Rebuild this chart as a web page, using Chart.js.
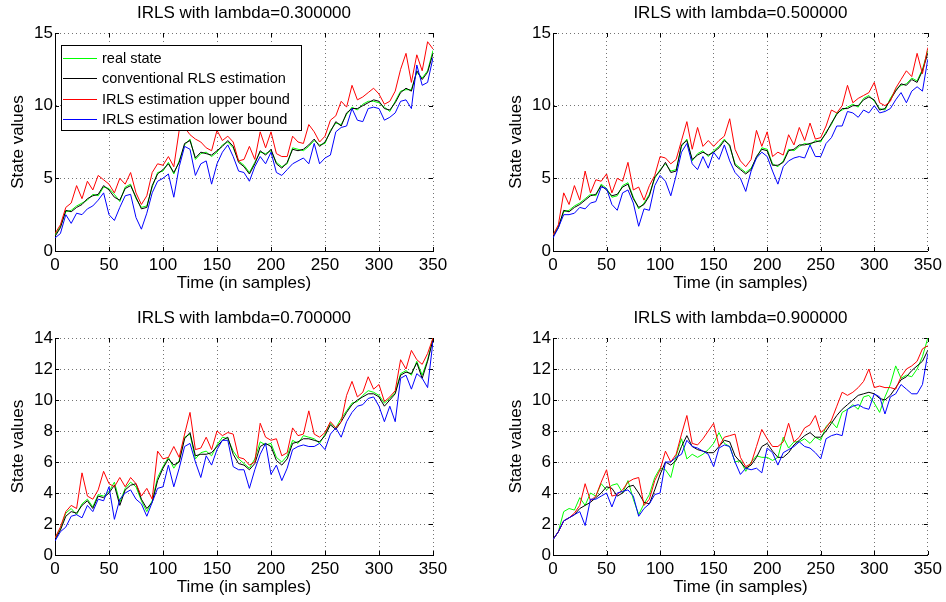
<!DOCTYPE html>
<html>
<head>
<meta charset="utf-8">
<script src="https://cdn.jsdelivr.net/npm/chart.js@4.4.1/dist/chart.umd.min.js"></script>
<style>
  html, body { margin: 0; padding: 0; background: #fff; }
  #wrap { position: relative; width: 946px; height: 602px; }
  canvas { position: absolute; }
</style>
</head>
<body>
<div id="wrap">
  <canvas id="c1" width="473" height="301" style="left:0;top:0"></canvas>
  <canvas id="c2" width="473" height="301" style="left:473px;top:0"></canvas>
  <canvas id="c3" width="473" height="301" style="left:0;top:301px"></canvas>
  <canvas id="c4" width="473" height="301" style="left:473px;top:301px"></canvas>
</div>
<script>
// sample index of every point (one point every 5 samples)
const samples = [0,5,10,15,20,25,30,35,40,45,50,55,60,65,70,75,80,85,90,95,
  100,105,110,115,120,125,130,135,140,145,150,155,160,165,170,175,180,185,190,195,
  200,205,210,215,220,225,230,235,240,245,250,255,260,265,270,275,280,285,290,295,
  300,305,310,315,320,325,330,335,340,345,350];

const seriesNames = ['real state', 'conventional RLS estimation', 'IRLS estimation upper bound', 'IRLS estimation lower bound'];
const seriesColors = ['#00ff00', '#000000', '#ff0000', '#0000ff'];
const titles = ['IRLS with lambda=0.300000', 'IRLS with lambda=0.500000', 'IRLS with lambda=0.700000', 'IRLS with lambda=0.900000'];
const xTicks = [0, 50, 100, 150, 200, 250, 300, 350];
const yTicksTop = [0, 5, 10, 15];
const yTicksBottom = [0, 2, 4, 6, 8, 10, 12, 14];

// lambda = 0.3
const p1Real = [1.1,1.7,2.7,2.8,3.1,3.3,3.5,3.9,3.8,4.4,
  4.3,3.9,3.4,4.4,4.6,3.6,3.0,3.1,4.4,5.4,
  5.5,6.1,5.3,6.2,7.3,7.7,6.3,6.7,6.8,6.5,
  6.8,7.3,7.5,7.1,6.2,5.9,5.4,6.1,6.8,6.7,
  6.9,6.1,5.8,6.0,7.1,7.0,6.9,7.2,7.6,7.3,
  7.4,8.3,8.8,8.7,9.4,9.9,9.7,10.1,10.3,10.3,
  10.2,9.9,9.6,10.3,11.0,11.1,11.1,12.3,11.9,12.4,
  13.8];
const p1Rls = [1.0,1.6,2.8,2.7,3.0,3.2,3.6,3.8,3.9,4.5,
  4.2,3.7,3.5,4.3,4.5,3.7,2.9,3.0,4.5,5.3,
  5.6,6.0,5.4,6.1,7.4,7.6,6.4,6.8,6.7,6.6,
  6.9,7.2,7.6,7.2,6.1,5.8,5.3,6.0,6.9,6.6,
  7.0,6.0,5.7,6.1,7.0,6.9,7.0,7.3,7.7,7.2,
  7.5,8.2,8.9,8.6,9.5,9.8,9.8,10.0,10.2,10.4,
  10.3,9.8,9.7,10.2,10.9,11.2,11.0,12.4,11.8,12.3,
  13.6];
const p1Upper = [1.2,1.8,3.0,3.3,4.5,3.6,4.8,4.2,5.2,4.9,
  4.6,4.0,5.0,4.6,5.4,4.0,3.2,3.8,5.4,6.0,
  5.9,6.5,5.8,8.3,8.5,8.0,7.7,7.5,7.1,6.9,
  8.3,7.6,7.9,7.5,6.2,6.3,7.2,6.3,8.2,7.1,
  8.2,6.7,6.5,6.5,7.9,7.5,7.4,8.7,8.2,7.5,
  7.9,9.0,9.3,10.3,9.9,11.4,10.4,10.6,10.9,11.2,
  10.8,10.1,10.3,11.0,12.5,13.6,11.6,13.5,12.4,14.4,
  13.9];
const p1Lower = [0.9,1.2,2.5,1.9,2.6,2.5,2.9,3.1,3.5,4.0,
  2.5,2.1,3.0,3.8,3.9,2.3,1.5,2.6,4.0,4.8,
  5.0,5.3,3.7,5.8,7.2,7.0,5.2,6.0,6.2,4.6,
  6.0,6.8,7.3,6.5,5.5,5.4,4.8,5.8,6.5,6.0,
  6.8,5.4,5.2,5.6,6.0,6.2,6.4,6.0,7.4,6.0,
  6.4,6.6,8.2,8.5,8.6,9.8,9.0,8.9,9.8,9.9,
  9.8,9.0,9.2,9.5,10.3,10.4,9.8,12.8,11.4,11.6,
  13.3];

// lambda = 0.5
const p2Real = [1.1,1.7,2.7,2.8,3.1,3.3,3.6,3.9,3.8,4.6,
  4.3,3.7,3.8,4.5,4.7,3.7,2.9,3.3,3.9,5.0,
  5.6,6.0,5.5,5.6,7.2,7.7,6.2,6.7,6.9,6.5,
  6.9,7.2,7.7,7.2,6.0,5.7,5.4,5.7,6.4,7.1,
  7.0,6.0,5.8,6.2,7.0,6.9,7.2,7.4,7.3,7.6,
  7.5,8.2,8.7,9.5,9.7,9.9,10.1,9.9,10.5,10.7,
  10.3,9.8,9.7,10.5,11.1,11.4,11.5,11.9,11.7,12.5,
  13.8];
const p2Rls = [1.0,1.6,2.8,2.7,3.0,3.2,3.5,3.8,3.9,4.5,
  4.2,3.8,3.9,4.4,4.6,3.6,3.0,3.2,3.8,5.1,
  5.5,6.1,5.4,5.5,7.3,7.6,6.3,6.6,6.8,6.6,
  6.8,7.1,7.6,7.3,5.9,5.6,5.3,5.6,6.5,7.0,
  6.9,5.9,5.9,6.1,6.9,7.0,7.3,7.3,7.4,7.5,
  7.6,8.1,8.8,9.4,9.8,9.8,10.0,10.0,10.4,10.6,
  10.4,9.7,9.8,10.4,11.0,11.5,11.4,11.8,11.6,12.4,
  13.6];
const p2Upper = [1.1,1.8,4.0,3.2,4.5,3.5,5.5,4.0,4.9,4.8,
  5.3,4.0,5.0,4.8,6.1,4.2,4.4,3.5,4.5,5.2,
  6.5,6.4,6.0,6.3,7.6,8.9,7.0,8.5,7.2,7.6,
  7.2,7.6,7.9,9.1,7.0,6.2,5.8,6.3,8.3,7.2,
  8.2,6.5,6.8,6.6,8.0,7.3,8.5,7.6,8.8,7.7,
  7.8,8.6,9.7,9.5,10.0,11.4,10.2,10.5,10.7,10.9,
  11.6,10.2,10.0,10.3,11.2,11.8,12.4,12.0,13.6,12.2,
  14.0];
const p2Lower = [0.9,1.6,2.5,2.5,2.6,3.0,2.9,3.3,3.4,4.4,
  4.3,3.2,2.8,4.0,4.2,3.3,1.7,2.9,2.8,4.5,
  5.2,4.8,3.8,5.2,6.8,7.4,6.0,5.6,6.5,5.7,
  6.8,6.3,7.3,6.2,5.4,5.0,4.1,5.5,6.4,6.8,
  6.5,5.5,4.6,5.8,6.2,6.4,6.5,6.4,7.3,6.5,
  6.5,7.4,7.8,8.6,8.6,9.6,9.5,9.2,9.7,9.5,
  10.0,9.5,9.6,9.8,10.4,10.9,10.2,11.0,11.3,11.0,
  13.2];

// lambda = 0.7
const p3Real = [1.1,1.7,2.7,3.0,2.6,3.3,3.6,3.1,3.9,3.8,
  4.1,4.7,3.4,4.3,4.7,4.4,3.5,2.8,3.5,5.0,
  5.7,6.3,5.6,6.1,7.6,7.8,6.2,6.6,6.7,6.4,
  7.1,7.6,7.5,6.7,6.2,5.9,5.6,6.2,7.3,7.1,
  7.2,6.3,6.0,6.4,7.4,7.2,7.7,7.6,7.5,7.2,
  7.8,8.5,8.2,8.8,9.3,9.8,9.9,10.3,10.6,10.5,
  10.3,9.8,10.1,10.5,11.7,11.9,11.6,12.5,11.6,12.6,
  14.0];
const p3Rls = [1.0,1.6,2.5,2.8,2.7,3.2,3.5,3.0,3.8,3.7,
  4.0,4.5,3.2,4.2,4.5,4.6,3.6,3.0,3.4,4.8,
  5.6,6.2,5.8,6.0,7.5,7.9,6.4,6.5,6.5,6.6,
  7.0,7.4,7.6,6.5,5.9,5.8,5.5,5.9,7.0,7.2,
  7.0,6.1,5.8,6.2,7.2,7.3,7.5,7.5,7.4,7.3,
  7.7,8.4,8.1,8.6,9.2,9.7,10.0,10.2,10.4,10.4,
  10.2,9.6,10.0,10.4,11.6,11.8,11.7,12.4,11.4,12.5,
  13.9];
const p3Upper = [1.1,1.8,2.8,3.2,3.0,5.3,3.8,3.6,4.2,5.4,
  4.6,4.4,5.0,4.4,5.0,4.6,3.8,4.3,3.6,6.7,
  6.2,6.3,7.0,6.3,7.8,9.2,6.8,6.9,7.6,6.8,
  8.0,7.7,7.9,7.8,6.3,6.2,5.8,6.0,8.5,7.6,
  7.4,7.5,6.4,6.6,8.2,7.7,7.8,9.3,7.8,7.6,
  7.9,8.6,8.2,8.6,10.3,11.2,10.2,10.5,11.5,10.7,
  11.0,9.9,10.2,10.6,12.6,12.0,13.2,12.6,12.3,13.0,
  14.0];
const p3Lower = [0.9,1.5,1.8,2.5,2.6,2.4,3.2,2.8,3.6,3.5,
  4.4,2.3,3.6,4.0,4.2,3.6,3.3,2.5,3.4,4.3,
  4.4,5.8,4.4,5.6,7.0,7.2,6.0,5.0,6.4,5.8,
  6.8,7.4,7.4,5.7,5.5,5.5,4.3,5.5,6.5,7.2,
  5.2,5.8,4.8,5.6,6.8,7.0,7.1,7.0,7.0,7.2,
  6.8,7.8,8.2,7.6,8.6,9.2,9.6,9.7,10.1,10.2,
  9.6,8.6,9.6,8.6,11.4,11.6,10.7,11.7,11.4,10.8,
  13.8];

// lambda = 0.9
const p4Real = [1.0,1.5,2.8,3.0,2.9,3.7,3.2,4.0,3.8,4.6,
  4.2,4.5,4.6,4.0,4.8,3.6,2.6,3.3,3.9,5.0,
  5.6,5.5,5.0,6.4,7.5,6.2,6.5,6.3,6.5,6.8,
  7.2,7.9,7.2,7.0,6.0,6.1,5.4,6.0,6.4,6.3,
  6.3,6.1,6.3,7.6,6.9,7.3,7.3,7.5,7.2,7.6,
  7.4,8.3,8.6,8.2,9.2,9.4,9.7,9.4,10.2,10.3,
  9.8,9.2,10.2,11.0,12.2,11.4,11.6,11.5,12.0,12.8,
  14.0];
const p4Rls = [1.0,1.5,2.2,2.4,2.6,3.0,3.2,3.4,3.7,4.0,
  4.4,4.3,3.8,4.0,4.4,4.5,4.0,3.4,3.3,4.2,
  5.2,6.0,5.8,6.1,7.0,7.7,7.0,6.8,6.7,6.6,
  6.6,7.0,7.4,7.3,6.4,6.0,5.6,5.8,6.3,7.0,
  7.2,6.7,6.3,6.3,6.6,7.1,7.4,7.7,7.9,7.6,
  7.6,8.0,8.5,9.0,9.4,9.7,10.0,10.3,10.4,10.5,
  10.4,10.1,10.0,10.3,10.8,11.3,11.5,11.9,12.2,12.5,
  13.2];
const p4Upper = [1.0,1.5,2.2,2.4,2.7,3.2,4.6,3.5,3.8,4.7,
  5.5,3.8,3.9,4.2,4.7,4.9,5.0,3.2,3.6,4.8,
  5.5,6.7,6.0,6.5,7.8,9.0,7.2,7.1,7.5,8.0,
  8.5,7.0,7.6,7.7,7.8,6.3,5.7,5.9,7.0,8.1,
  7.5,7.0,7.0,7.3,8.5,7.3,7.6,8.2,8.4,9.0,
  7.9,8.2,8.7,9.6,10.5,10.3,10.5,10.8,11.2,12.0,
  10.8,10.9,10.8,10.8,10.7,11.5,12.0,12.2,12.5,13.3,
  13.5];
const p4Lower = [1.0,1.5,2.2,2.4,2.6,2.8,1.9,3.6,3.6,3.8,
  4.0,3.1,4.0,4.1,4.2,3.8,2.5,3.0,3.3,3.9,
  4.0,6.0,6.0,6.3,6.5,7.4,7.0,6.9,6.7,6.5,
  5.7,6.9,7.1,7.0,6.0,5.2,5.6,5.5,5.6,5.3,
  6.9,6.6,5.8,6.6,6.8,7.0,7.3,7.0,6.9,6.6,
  6.2,7.5,7.7,7.8,7.7,9.4,9.6,9.7,9.5,9.4,
  10.4,10.2,9.1,10.2,10.4,11.0,10.7,10.4,10.4,11.0,
  13.0];

const FONT = '"Liberation Sans", Arial, Helvetica, sans-serif';
Chart.defaults.font.family = FONT;
Chart.defaults.color = '#000';

// MATLAB style: small tick marks pointing into the axes on all four sides
const inwardTicks = {
  id: 'inwardTicks',
  beforeDatasetsDraw(chart) {
    const { ctx, chartArea: a, scales: { x, y } } = chart;
    ctx.save();
    ctx.strokeStyle = '#000';
    ctx.lineWidth = 1;
    ctx.beginPath();
    x.ticks.forEach(t => {
      const px = Math.round(x.getPixelForValue(t.value)) + 0.5;
      ctx.moveTo(px, a.bottom); ctx.lineTo(px, a.bottom - 4);
      ctx.moveTo(px, a.top); ctx.lineTo(px, a.top + 4);
    });
    y.ticks.forEach(t => {
      const py = Math.round(y.getPixelForValue(t.value)) + 0.5;
      ctx.moveTo(a.left, py); ctx.lineTo(a.left + 4, py);
      ctx.moveTo(a.right, py); ctx.lineTo(a.right - 4, py);
    });
    ctx.stroke();
    ctx.restore();
  }
};

// boxed legend in the upper-left corner of the axes
const boxLegend = {
  id: 'boxLegend',
  afterDatasetsDraw(chart, args, opts) {
    if (!opts.display) return;
    const { ctx, chartArea } = chart;
    const x0 = Math.round(chartArea.left) + 6, y0 = Math.round(chartArea.top) + 12;
    const w = 240, h = 85;
    ctx.save();
    ctx.fillStyle = '#fff';
    ctx.fillRect(x0, y0, w, h);
    ctx.strokeStyle = '#000';
    ctx.lineWidth = 1;
    ctx.strokeRect(x0 + 0.5, y0 + 0.5, w, h);
    ctx.font = '14.5px ' + FONT;
    ctx.textBaseline = 'middle';
    chart.data.datasets.forEach((ds, i) => {
      const yy = Math.round(y0 + 12.7 + i * 20.5) + 0.5;
      ctx.strokeStyle = ds.borderColor;
      ctx.beginPath();
      ctx.moveTo(x0 + 2, yy);
      ctx.lineTo(x0 + 36, yy);
      ctx.stroke();
      ctx.fillStyle = '#000';
      ctx.fillText(ds.label, x0 + 41, yy);
    });
    ctx.restore();
  }
};

const panels = [
  { id: 'c1', col: 0, row: 0, title: titles[0], data: [p1Real, p1Rls, p1Upper, p1Lower], yTicks: yTicksTop, legend: true },
  { id: 'c2', col: 1, row: 0, title: titles[1], data: [p2Real, p2Rls, p2Upper, p2Lower], yTicks: yTicksTop, legend: false },
  { id: 'c3', col: 0, row: 1, title: titles[2], data: [p3Real, p3Rls, p3Upper, p3Lower], yTicks: yTicksBottom, legend: false },
  { id: 'c4', col: 1, row: 1, title: titles[3], data: [p4Real, p4Rls, p4Upper, p4Lower], yTicks: yTicksBottom, legend: false },
];

function renderPanel(p) {
  const ctx = document.getElementById(p.id).getContext('2d');
  const n = p.data.length;
  const datasets = p.data.map((vals, i) => ({
    label: seriesNames[i],
    data: vals.map((v, k) => ({ x: samples[k], y: v })),
    borderColor: seriesColors[i],
    borderWidth: 1,
    pointRadius: 0,
    tension: 0,
    fill: false,
    order: n - 1 - i,
  }));
  const yTicks = p.yTicks;
  const gridColor = 'rgba(0,0,0,0.55)';

  new Chart(ctx, {
    type: 'line',
    data: { datasets },
    options: {
      responsive: false,
      animation: false,
      events: [],
      layout: { padding: { left: p.col ? 25 : 0, right: p.col ? 15 : 40, top: 0, bottom: 0 } },
      plugins: {
        legend: { display: false },
        tooltip: { enabled: false },
        title: {
          display: true,
          fullSize: false,
          text: p.title,
          color: '#000',
          font: { size: 17, weight: 'normal' },
          padding: p.row ? { top: 6.8, bottom: 9.8 } : { top: 3, bottom: 9.6 },
        },
        boxLegend: { display: p.legend },
      },
      scales: {
        x: {
          type: 'linear',
          min: xTicks[0],
          max: xTicks[xTicks.length - 1],
          afterBuildTicks: s => { s.ticks = xTicks.map(v => ({ value: v })); },
          afterFit: s => { s.height = p.row ? 47 : 50; },
          ticks: { font: { size: 17 }, color: '#000', padding: 4, maxRotation: 0, autoSkip: false },
          grid: { color: gridColor, lineWidth: 1, drawTicks: false },
          border: { display: true, color: '#000', width: 1, dash: [1, 3] },
          title: {
            display: true, text: 'Time (in samples)', color: '#000',
            font: { size: 17 }, padding: { top: 0, bottom: p.row ? 4.8 : 7.8 },
          },
        },
        y: {
          type: 'linear',
          min: yTicks[0],
          max: yTicks[yTicks.length - 1],
          afterBuildTicks: s => { s.ticks = yTicks.map(v => ({ value: v })); },
          afterFit: s => { s.width = 55; },
          ticks: { font: { size: 17 }, color: '#000', padding: 2, autoSkip: false },
          grid: { color: gridColor, lineWidth: 1, drawTicks: false },
          border: { display: true, color: '#000', width: 1, dash: [1, 3] },
          title: {
            display: true, text: 'State values', color: '#000',
            font: { size: 17 }, padding: { top: 7.8, bottom: 0 },
          },
        },
      },
    },
    plugins: [inwardTicks, boxLegend],
  });
}

panels.forEach(renderPanel);
</script>
</body>
</html>
